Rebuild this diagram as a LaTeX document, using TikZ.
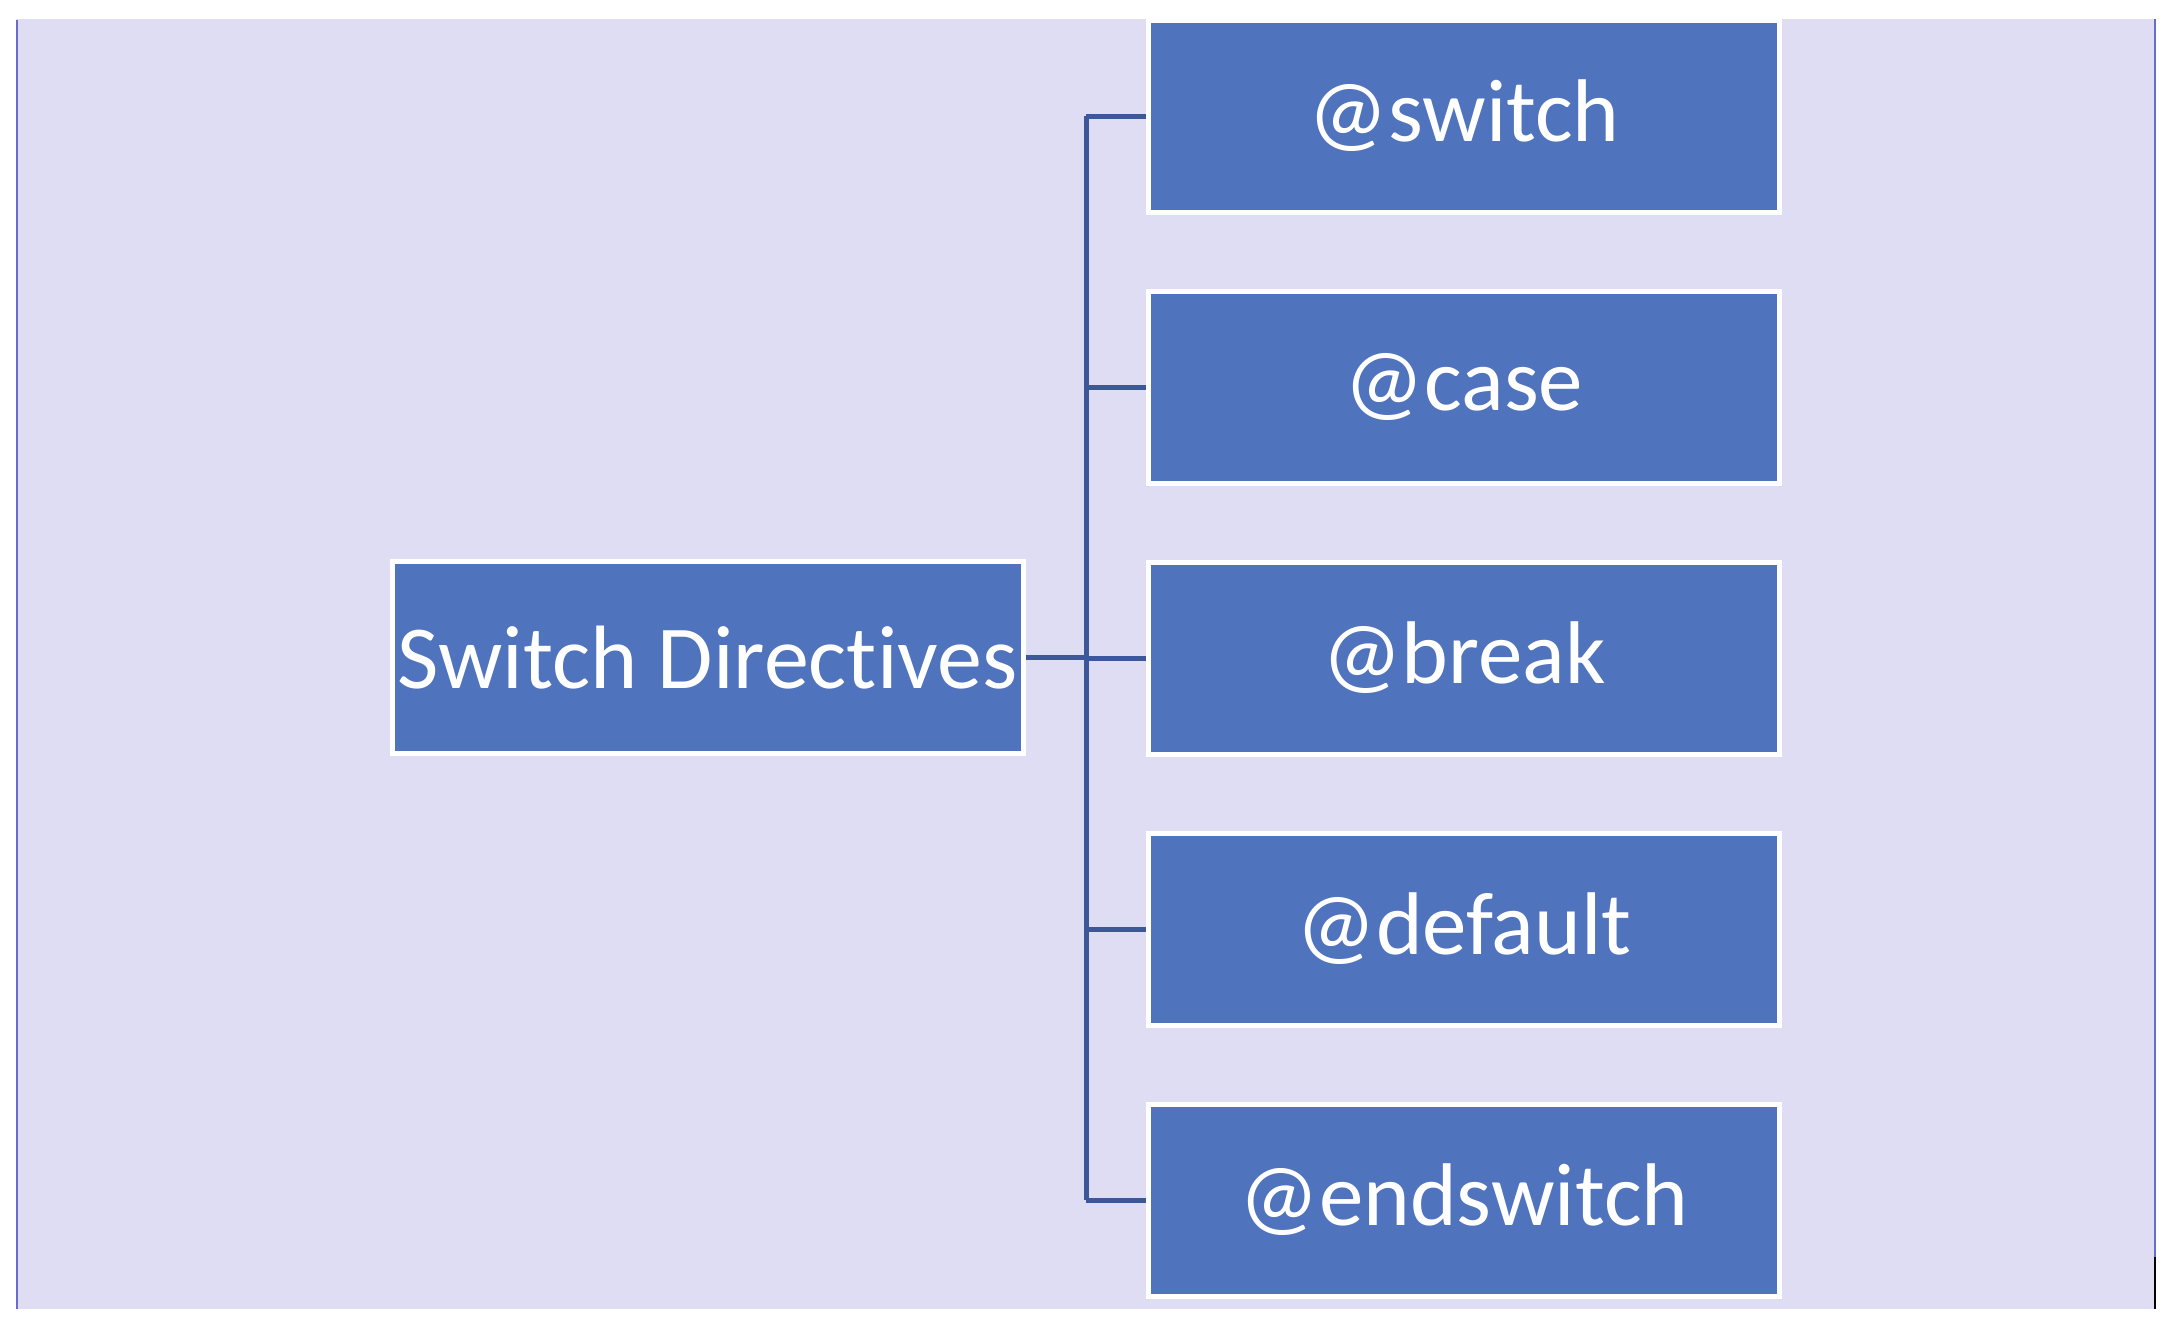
\documentclass[tikz,border=0pt]{standalone}
\usepackage{fontspec}
\setmainfont[Ligatures=NoCommon,RawFeature={-liga;-dlig}]{Carlito}
\definecolor{bgcol}{RGB}{223,221,244}
\definecolor{boxblue}{RGB}{80,115,190}
\definecolor{linecol}{RGB}{61,88,153}
\definecolor{edgecol}{RGB}{106,106,207}
\begin{document}
\begin{tikzpicture}[x=1pt,y=-1pt,
  itembox/.style={rectangle, fill=boxblue, draw=white, line width=5pt,
    minimum width=631pt, minimum height=192pt, inner sep=0pt,
    text=white, font=\fontsize{89}{96}\selectfont},
  conn/.style={draw=linecol, line width=5pt}]
\useasboundingbox (0,0) rectangle (2174,1326);
\fill[bgcol] (16,19) rectangle (2156,1309);
\fill[edgecol] (16,20) rectangle (18,1309);
\fill[edgecol] (2154,19) rectangle (2156,1257);
\fill[black] (2154,1257) rectangle (2156,1309);
\node[itembox, font=\fontsize{90}{98}\selectfont] (root) at (707.5,657.5) {Switch Directives};
\node[itembox] (c1) at (1464,116) {@switch};
\node[itembox] (c2) at (1464,387) {@case};
\node[itembox] (c3) at (1464,658) {@break};
\node[itembox] (c4) at (1464,929) {@default};
\node[itembox] (c5) at (1464,1200) {@endswitch};
\coordinate (trunk) at (1086,657.5);
\draw[conn] (root.east) -- (trunk);
\draw[conn] (trunk |- c1.west) -- (trunk |- c5.west);
\foreach \c in {c1,c2,c3,c4,c5}{
  \draw[conn] (trunk |- \c.west) -- (\c.west);
}
\end{tikzpicture}
\end{document}
